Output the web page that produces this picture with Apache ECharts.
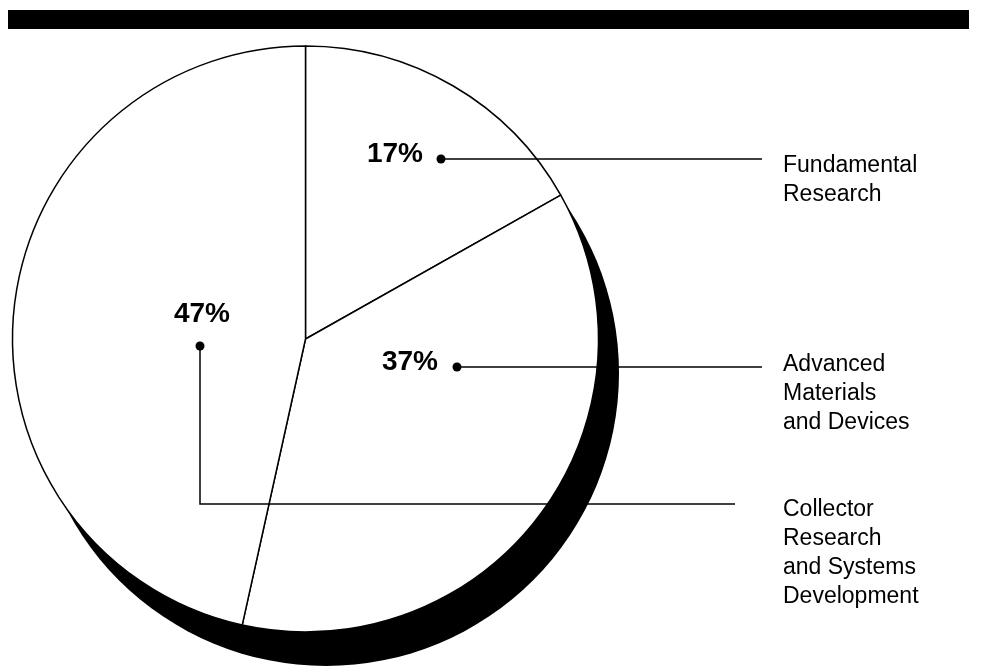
<!DOCTYPE html>
<html>
<head>
<meta charset="utf-8">
<script src="https://cdn.jsdelivr.net/npm/echarts@6/dist/echarts.min.js"></script>
<style>
  html, body { margin: 0; padding: 0; background: #fff; }
  #chart { width: 987px; height: 671px; }
</style>
</head>
<body>
<div id="chart"></div>
<script>
// 数据
const categories = ['Fundamental\nResearch', 'Advanced\nMaterials\nand Devices', 'Collector\nResearch\nand Systems\nDevelopment'];
const shares = [17, 37, 47];

// 标签位置 (像素)
const nameAnchors = [[783, 151], [783, 350], [783, 495]];
const pctAnchors = [[395, 154], [410, 362], [202, 314]];
const leaderLines = [
  [[441, 159], [600, 159], [762, 159]],
  [[457, 367], [600, 367], [762, 367]],
  [[200, 346], [200, 504], [735, 504]]
];
const dotPoints = [[441, 159], [457, 367], [200, 346]];

const CENTER = [305.5, 339];
const SHADOW_CENTER = [326, 373];
const R = 293;
const FONT = '"Liberation Sans", Arial, Helvetica, sans-serif';

const chart = echarts.init(document.getElementById('chart'));

const pieData = categories.map((name, i) => ({ name: name, value: shares[i] }));

// 透明的叠加饼图, 只用来放标签
const overlay = {
  type: 'pie',
  silent: true,
  center: CENTER,
  radius: R,
  startAngle: 90,
  avoidLabelOverlap: false,
  data: pieData,
  itemStyle: { color: 'rgba(0,0,0,0)', borderWidth: 0 },
  emphasis: { disabled: true }
};

const option = {
  animation: false,
  backgroundColor: '#fff',
  graphic: [
    {
      type: 'rect',
      shape: { x: 8, y: 10, width: 961, height: 19 },
      style: { fill: '#000' },
      z: 10
    },
    ...dotPoints.map(p => ({
      type: 'circle',
      shape: { cx: p[0], cy: p[1], r: 4.5 },
      style: { fill: '#000' },
      z: 100
    }))
  ],
  series: [
    {
      // 阴影
      type: 'pie',
      silent: true,
      z: 1,
      center: SHADOW_CENTER,
      radius: R,
      data: [{ name: 'shadow', value: 1 }],
      label: { show: false },
      labelLine: { show: false },
      itemStyle: { color: '#000', borderWidth: 0 },
      emphasis: { disabled: true }
    },
    {
      type: 'pie',
      silent: true,
      z: 2,
      center: CENTER,
      radius: R,
      startAngle: 90,
      clockwise: true,
      data: pieData,
      itemStyle: { color: '#fff', borderColor: '#000', borderWidth: 1.5 },
      label: { show: false },
      labelLine: { show: false },
      emphasis: { disabled: true }
    },
    Object.assign({}, overlay, {
      // 名称 + 引线
      z: 3,
      label: {
        show: true,
        position: 'outside',
        formatter: '{b}',
        color: '#000',
        fontFamily: FONT,
        fontSize: 23,
        lineHeight: 29
      },
      labelLine: {
        show: true,
        lineStyle: { color: '#000', width: 1.5 }
      },
      labelLayout: function (p) {
        const i = p.dataIndex;
        return {
          x: nameAnchors[i][0],
          y: nameAnchors[i][1],
          align: 'left',
          verticalAlign: 'top',
          labelLinePoints: leaderLines[i]
        };
      }
    }),
    Object.assign({}, overlay, {
      // 百分比
      z: 4,
      label: {
        show: true,
        position: 'inside',
        formatter: '{c}%',
        color: '#000',
        fontFamily: FONT,
        fontWeight: 'bold',
        fontSize: 28
      },
      labelLine: { show: false },
      labelLayout: function (p) {
        const i = p.dataIndex;
        return {
          x: pctAnchors[i][0],
          y: pctAnchors[i][1],
          align: 'center',
          verticalAlign: 'middle'
        };
      }
    })
  ]
};

chart.setOption(option);
</script>
</body>
</html>
